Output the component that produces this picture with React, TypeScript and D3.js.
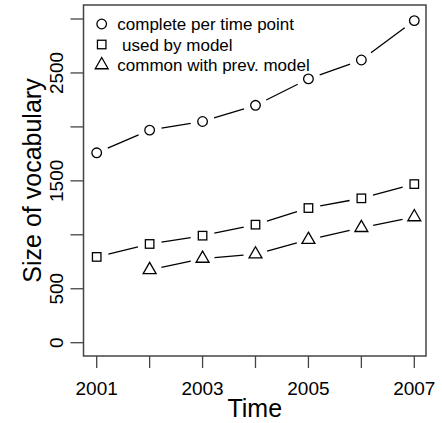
import React from "react";
import * as d3 from "d3";

const years = [2001, 2002, 2003, 2004, 2005, 2006, 2007];
const completeVocab = [1760, 1970, 2050, 2200, 2445, 2620, 2985];
const usedByModel = [795, 915, 992, 1094, 1248, 1338, 1470];
const commonWithPrev: (number | null)[] = [null, 675, 780, 820, 955, 1065, 1165];
const yTicks = [0, 500, 1000, 1500, 2000, 2500, 3000];
const yTickLabels = ["0", "500", "", "1500", "", "2500", ""];
const xTicks = years;
const xTickLabels = ["2001", "", "2003", "", "2005", "", "2007"];
const legendLabels = ["complete per time point", " used by model", "common with prev. model"];

const W = 442;
const H = 423;
const box = { left: 83.5, right: 426, top: 5, bottom: 356 };
const FONT = "'Liberation Sans', Arial, Helvetica, sans-serif";
const R = 4.8;

const x = d3.scaleLinear().domain([2001, 2007]).range([96.7, 414.3]);
const y = d3.scaleLinear().domain([0, 3000]).range([342.7, 19]);

type Shape = "circle" | "square" | "triangle";

function Marker({ cx, cy, shape }: { cx: number; cy: number; shape: Shape }) {
  const common = { fill: "none", stroke: "#000", strokeWidth: 1.3 };
  if (shape === "circle") return <circle cx={cx} cy={cy} r={R} {...common} />;
  if (shape === "square") {
    const h = R * 0.886;
    return <rect x={cx - h} y={cy - h} width={2 * h} height={2 * h} {...common} />;
  }
  const r = 1.555 * R;
  const xc = 1.347 * R;
  const yc = 0.7776 * R;
  const pts = [
    [cx, cy - r],
    [cx + xc, cy + yc],
    [cx - xc, cy + yc],
  ];
  return <polygon points={pts.map((p) => p.join(",")).join(" ")} {...common} />;
}

// Line with gaps around each point (R's type = "b")
function GappedLine({ values, shape }: { values: (number | null)[]; shape: Shape }) {
  const pts = years
    .map((yr, i) => ({ yr, v: values[i] }))
    .filter((d) => d.v !== null)
    .map((d) => [x(d.yr), y(d.v as number)] as [number, number]);
  const gap = 12;
  const segs: JSX.Element[] = [];
  for (let i = 0; i < pts.length - 1; i++) {
    const [x0, y0] = pts[i];
    const [x1, y1] = pts[i + 1];
    const len = Math.hypot(x1 - x0, y1 - y0);
    if (len <= 2 * gap) continue;
    const ux = (x1 - x0) / len;
    const uy = (y1 - y0) / len;
    segs.push(
      <line
        key={i}
        x1={x0 + ux * gap}
        y1={y0 + uy * gap}
        x2={x1 - ux * gap}
        y2={y1 - uy * gap}
        stroke="#000"
        strokeWidth={1.3}
      />
    );
  }
  return (
    <g>
      {segs}
      {pts.map(([px, py], i) => (
        <Marker key={i} cx={px} cy={py} shape={shape} />
      ))}
    </g>
  );
}

export default function App() {
  const shapes: Shape[] = ["circle", "square", "triangle"];
  const legendRows = [24, 44.5, 65];
  return (
    <svg width={W} height={H} style={{ display: "block", position: "absolute", left: 0, top: 0 }}>
      <rect x={0} y={0} width={W} height={H} fill="#fff" />
      {/* plot frame */}
      <rect
        x={box.left}
        y={box.top}
        width={box.right - box.left}
        height={box.bottom - box.top}
        fill="none"
        stroke="#444"
        strokeWidth={1.5}
      />
      {/* y axis */}
      <g>
        {yTicks.map((t, i) => (
          <g key={t}>
            <line x1={box.left - 13} x2={box.left} y1={y(t)} y2={y(t)} stroke="#444" strokeWidth={1.3} />
            {yTickLabels[i] && (
              <text
                transform={`translate(63,${y(t)}) rotate(-90)`}
                textAnchor="middle"
                fontFamily={FONT}
                fontSize={19}
                fill="#000"
              >
                {yTickLabels[i]}
              </text>
            )}
          </g>
        ))}
      </g>
      {/* x axis */}
      <g>
        {xTicks.map((t, i) => (
          <g key={t}>
            <line x1={x(t)} x2={x(t)} y1={box.bottom} y2={box.bottom + 12} stroke="#444" strokeWidth={1.3} />
            {xTickLabels[i] && (
              <text x={x(t)} y={395} textAnchor="middle" fontFamily={FONT} fontSize={19} fill="#000">
                {xTickLabels[i]}
              </text>
            )}
          </g>
        ))}
      </g>
      <text x={(box.left + box.right) / 2} y={417} textAnchor="middle" fontFamily={FONT} fontSize={25} fill="#000">
        Time
      </text>
      <text
        transform={`translate(41,${(box.top + box.bottom) / 2}) rotate(-90)`}
        textAnchor="middle"
        fontFamily={FONT}
        fontSize={25}
        fill="#000"
      >
        Size of vocabulary
      </text>

      <GappedLine values={completeVocab} shape="circle" />
      <GappedLine values={usedByModel} shape="square" />
      <GappedLine values={commonWithPrev} shape="triangle" />

      {/* legend */}
      {legendLabels.map((lab, i) => (
        <g key={lab}>
          <Marker cx={101.7} cy={legendRows[i]} shape={shapes[i]} />
          <text
            x={117.3}
            y={legendRows[i] + 6.3}
            fontFamily={FONT}
            fontSize={17}
            fill="#000"
            style={{ whiteSpace: "pre" }}
          >
            {lab}
          </text>
        </g>
      ))}
    </svg>
  );
}
